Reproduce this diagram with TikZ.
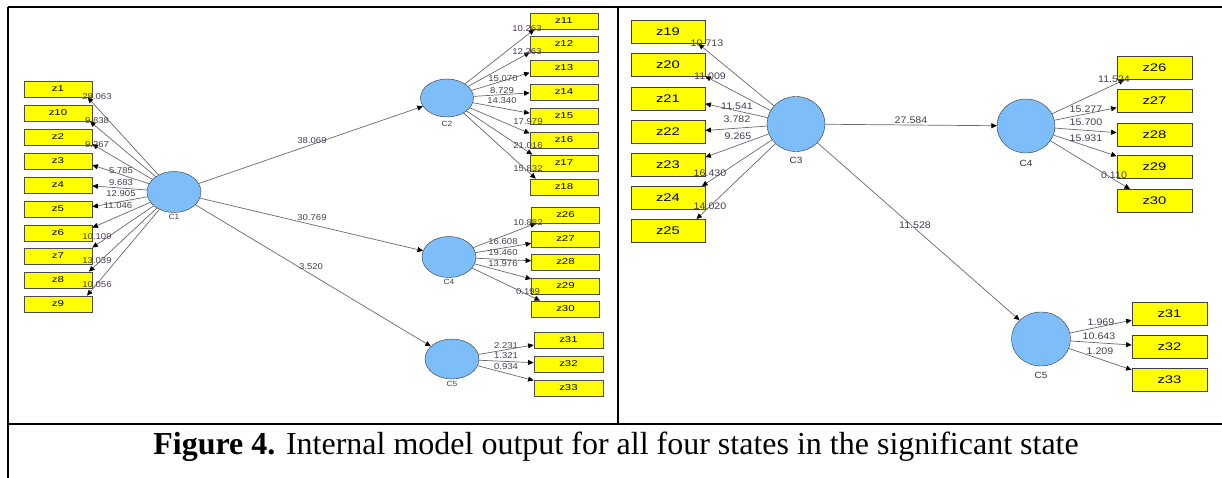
\documentclass[tikz,border=0pt]{standalone}
\usepackage{fontspec}
\setmainfont{Liberation Serif}
\newfontfamily\plsedge[FakeStretch=1.12]{Liberation Sans}
\newfontfamily\plsbox[FakeStretch=1.35]{Liberation Sans}
\usetikzlibrary{shapes.geometric,arrows.meta}
\definecolor{indc}{RGB}{255,255,0}
\definecolor{latc}{RGB}{125,190,250}
\definecolor{connc}{RGB}{105,105,105}
\definecolor{lblc}{RGB}{70,62,80}
\begin{document}
\begin{tikzpicture}[x=1pt,y=-1pt,
 indL/.style={draw=black!70, fill=indc, minimum width=68pt, minimum height=16pt, inner sep=0pt, font=\plsbox\fontsize{8.5}{9}\selectfont},
 indR/.style={draw=black!75, fill=indc, minimum width=75pt, minimum height=23pt, inner sep=0pt, font=\plsbox\fontsize{11}{12}\selectfont},
 hitbox/.style={rectangle, inner sep=0pt, outer sep=0.4pt},
 latent/.style={ellipse, draw=black!80, fill=latc, inner sep=0pt},
 cL/.style={font=\plsedge\fontsize{7.5}{8}\selectfont, text=black!75, inner sep=0pt},
 cR/.style={font=\plsedge\fontsize{9}{10}\selectfont, text=black!80, inner sep=0pt},
 elL/.style={font=\plsedge\fontsize{8.5}{9}\selectfont, text=lblc, inner sep=0pt},
 elR/.style={font=\plsedge\fontsize{9.5}{10}\selectfont, text=lblc, inner sep=0pt},
 conn/.style={draw=connc, line width=0.7pt, -{Triangle[length=5.5pt,width=5pt,color=black]}},
 frame/.style={draw=black, line width=1.3pt},
]
\useasboundingbox (0,0) rectangle (1222,478);
\fill[white] (0,0) rectangle (1222,478);

% frame lines
\coordinate (tl) at (8,7);
\coordinate (tr) at (1222,7);
\coordinate (bl) at (8,478);
\coordinate (dt) at (618,7);
\coordinate (db) at (618,424);
\coordinate (hl) at (8,424);
\coordinate (hr) at (1222,424);
\draw[frame] (tl) -- (tr);
\draw[frame, line width=2pt] (tl) -- (bl);
\draw[frame] (dt) -- (db);
\draw[frame, line width=2.2pt] (hl) -- (hr);

% ---------------- left panel ----------------
\node[latent, minimum width=54pt, minimum height=41pt] (C1) at (174,192) {};
\node[latent, minimum width=53pt, minimum height=38pt] (C2) at (447,98) {};
\node[latent, minimum width=54pt, minimum height=41pt] (AC4) at (449,257) {};
\node[latent, minimum width=54pt, minimum height=40pt] (AC5) at (452,359) {};
\node[cL] (C1t) at (174,217) {C1};
\node[cL] (C2t) at (447,124) {C2};
\node[cL] (AC4t) at (449,282) {C4};
\node[cL] (AC5t) at (452,384) {C5};

\foreach \n/\y in {z1/89, z10/113, z2/137, z3/161, z4/185, z5/209, z6/233, z7/256, z8/280, z9/304}{
  \node[indL] (A\n) at (58,\y) {\n};
  \node[hitbox, minimum width=24pt, minimum height=16pt] (HA\n) at (80,\y) {};}
\foreach \n/\y in {z11/21, z12/44, z13/68, z14/92, z15/116, z16/140, z17/163, z18/187}{
  \node[indL] (A\n) at (564,\y) {\n};
  \node[hitbox, minimum width=30pt, minimum height=16pt] (HA\n) at (545,\y) {};}
\foreach \n/\y in {z26/215, z27/239, z28/262, z29/286, z30/309}{
  \node[indL] (A\n) at (565.5,\y) {\n};
  \node[hitbox, minimum width=52pt, minimum height=16pt] (HA\n) at (557.5,\y) {};}
\foreach \n/\y in {z31/340, z32/364, z33/388}{
  \node[indL, minimum width=69pt] (A\n) at (568.5,\y) {\n};
  \node[hitbox, minimum width=57pt, minimum height=16pt] (HA\n) at (562.5,\y) {};}

\foreach \n in {z1, z10, z2, z3, z4, z5, z6, z7, z8, z9}
  \draw[conn] (C1) -- (HA\n);
\foreach \n in {z11, z12, z13, z14, z15, z16, z17, z18}
  \draw[conn] (C2) -- (HA\n);
\foreach \n in {z26, z27, z28, z29, z30}
  \draw[conn] (AC4) -- (HA\n);
\foreach \n in {z31, z32, z33}
  \draw[conn] (AC5) -- (HA\n);
\draw[conn] (C1) -- (C2);
\draw[conn] (C1) -- (AC4);
\draw[conn] (C1) -- (AC5);

\foreach \v/\x/\y [count=\i] in {28.063/97/97, 9.838/97/121, 9.267/97/145, 5.785/121/171, 9.683/121/183, 12.905/121/194, 11.046/118/206, 10.109/97/237, 13.039/97/261, 10.056/97/285,
  10.263/527/29, 12.263/527/52, 15.070/503/79, 8.729/502/91, 14.340/502/101, 17.979/528/122, 21.016/528/146, 15.832/528/169,
  10.882/528/223, 16.608/503/242, 19.460/503/253, 13.976/503/264, 0.199/528/292,
  2.231/506/346, 1.321/506/356, 0.934/506/367,
  38.069/312/141, 30.769/312/218, 3.520/311/267}
  \node[elL] (eA\i) at (\x,\y) {\v};

% ---------------- right panel ----------------
\node[latent, minimum width=58pt, minimum height=55pt] (C3) at (796,124) {};
\node[latent, minimum width=58pt, minimum height=54pt] (BC4) at (1026,126) {};
\node[latent, minimum width=59pt, minimum height=54pt] (BC5) at (1041,339) {};
\node[cR] (C3t) at (796,160) {C3};
\node[cR] (BC4t) at (1026,163) {C4};
\node[cR] (BC5t) at (1041,375) {C5};

\foreach \n/\y in {z19/32, z20/65, z21/99, z22/132, z23/165, z24/198, z25/231}{
  \node[indR, minimum width=74pt] (B\n) at (668,\y) {\n};
  \node[hitbox, minimum width=42pt, minimum height=23pt] (HB\n) at (684,\y) {};}
\foreach \n/\y in {z26/68, z27/101, z28/135, z29/167, z30/201}{
  \node[indR] (B\n) at (1154.5,\y) {\n};
  \node[hitbox, minimum width=65pt, minimum height=23pt] (HB\n) at (1149.5,\y) {};}
\foreach \n/\y in {z31/314, z32/347, z33/380}{
  \node[indR] (B\n) at (1169.5,\y) {\n};
  \node[hitbox, minimum width=59pt, minimum height=23pt] (HB\n) at (1161.5,\y) {};}

\foreach \n in {z19, z20, z21, z22, z23, z24, z25}
  \draw[conn] (C3) -- (HB\n);
\foreach \n in {z26, z27, z28, z29, z30}
  \draw[conn] (BC4) -- (HB\n);
\foreach \n in {z31, z32, z33}
  \draw[conn] (BC5) -- (HB\n);
\draw[conn] (C3) -- (BC4);
\draw[conn] (C3) -- (BC5);

\foreach \v/\x/\y [count=\i] in {10.713/707/43, 11.009/710/76, 11.541/737/106, 3.782/737/119, 9.265/738/136, 16.430/710/173, 14.020/710/206,
  11.524/1114/79, 15.277/1086/109, 15.700/1086/122, 15.931/1086/138, 0.110/1114/175,
  1.969/1101/322, 10.643/1099/336, 1.209/1100/351,
  27.584/911/120, 11.528/915/225}
  \node[elR] (eB\i) at (\x,\y) {\v};

% caption
\node[inner sep=0pt] (cap) at (616,447) {\fontsize{32}{36}\selectfont\textbf{Figure 4.} Internal model output for all four states in the significant state};
\end{tikzpicture}
\end{document}
